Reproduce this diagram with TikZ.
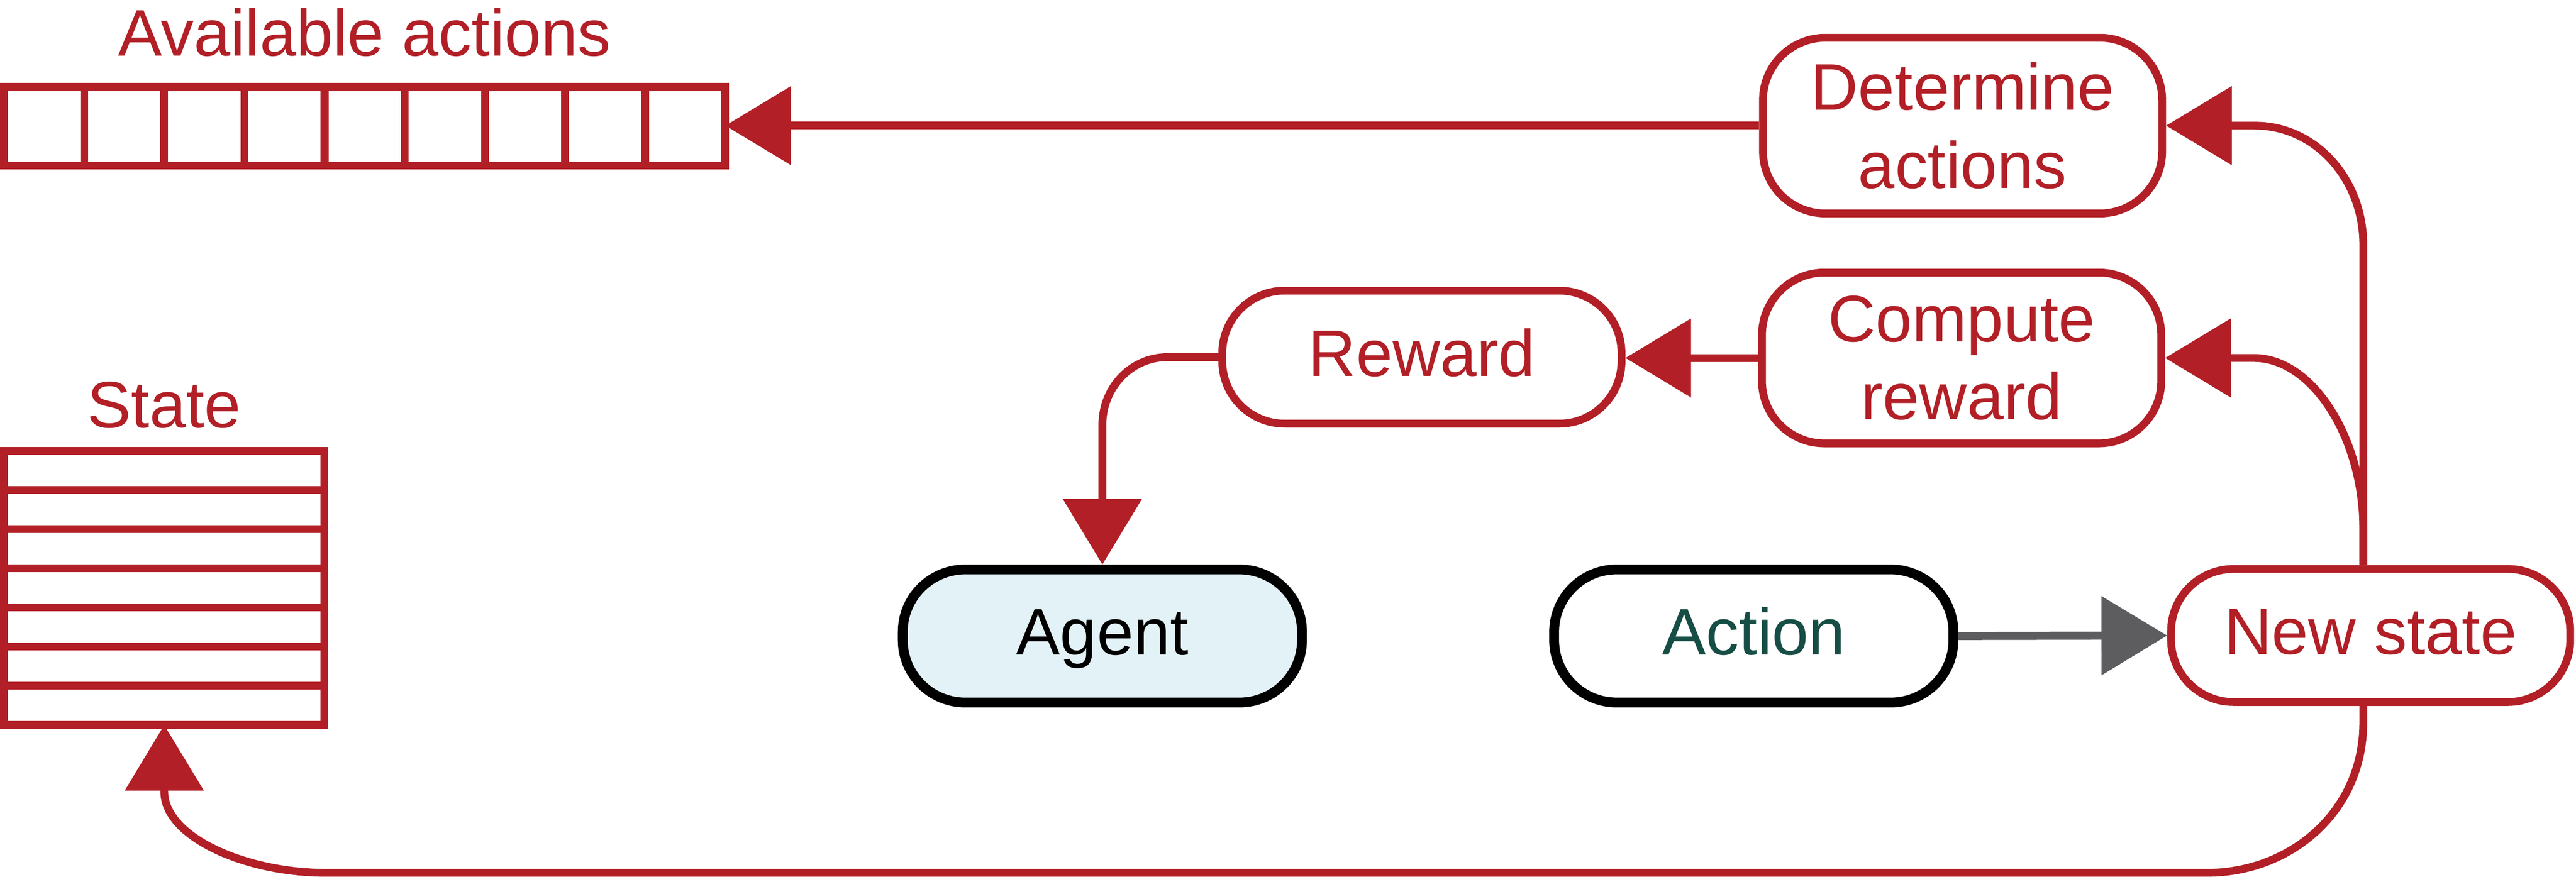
\documentclass[tikz,border=0pt]{standalone}
\usepackage{fontspec}
\setmainfont{Liberation Sans}
\usepackage{xcolor}
\usepackage{tikz}
\usetikzlibrary{arrows.meta,calc}

\definecolor{envred}{RGB}{178,31,38}
\definecolor{agentblue}{RGB}{227,242,247}
\definecolor{actiongreen}{RGB}{22,77,68}
\definecolor{flowgray}{RGB}{93,93,95}

\begin{document}
\begin{tikzpicture}[
	font=\fontsize{11.4}{13.5}\selectfont,
	roundbox/.style={draw,rounded corners=0.38cm,minimum width=2.43cm,minimum height=0.81cm,inner sep=0pt},
	oneline/.style={text height=0.29cm,text depth=0.06cm},
	redbox/.style={roundbox,draw=envred,text=envred,line width=1.35pt},
	blackbox/.style={roundbox,draw=black,line width=1.7pt},
	arraybox/.style={draw=envred,line width=1.35pt,inner sep=0pt,outer sep=0pt},
	redarrow/.style={envred,line width=1.35pt,-{Triangle[length=0.4cm,width=0.47cm]}},
	grayarrow/.style={flowgray,line width=1.4pt,-{Triangle[length=0.4cm,width=0.47cm]}}
	]
	\useasboundingbox (0,0) rectangle (15.68,5.34);
	
	% arrays
	\node[arraybox,minimum width=4.391cm,minimum height=0.478cm] (avail) at (2.2195,4.571) {};
	\foreach \i in {1,...,8}{
		\draw[envred,line width=1.35pt] ($(avail.south west)+(0.4879*\i,0)$) -- ($(avail.north west)+(0.4879*\i,0)$);
	}
	\node[text=envred,anchor=base] (availtext) at ($(avail.north)+(0,0.19)$) {Available actions};
	
	\node[arraybox,minimum width=1.951cm,minimum height=1.669cm] (state) at (0.9995,1.7595) {};
	\foreach \i in {1,...,6}{
		\draw[envred,line width=1.35pt] ($(state.south west)+(0,0.2384*\i)$) -- ($(state.south east)+(0,0.2384*\i)$);
	}
	\node[text=envred,anchor=base] (statetext) at ($(state.north)+(0,0.14)$) {State};
	
	% boxes
	\node[redbox,minimum height=1.07cm,align=center] (det) at (11.946,4.575) {Determine\\actions};
	\node[redbox,minimum height=1.04cm,align=center] (cr) at (11.94,3.16) {Compute\\reward};
	\node[redbox,oneline] (rew) at (8.655,3.165) {Reward};
	\node[blackbox,oneline,fill=agentblue] (agent) at (6.71,1.467) {Agent};
	\node[blackbox,oneline,text=actiongreen] (action) at (10.675,1.467) {Action};
	\node[redbox,oneline] (ns) at (14.43,1.47) {New state};
	
	% connectors
	\draw[redarrow] (det.west) -- (det.west -| avail.east);
	\draw[redarrow] (cr.west) -- (cr.west -| rew.east);
	\draw[redarrow] (rew.west) -- ++(-0.31,0) .. controls +(-0.22,0) and +(0,0.23) .. ($(agent.north)+(0,0.85)$) -- (agent.north);
	\draw[grayarrow] (action.east) -- (ns.west);
	\draw[redarrow] ([xshift=-0.045cm]ns.north) -- ++(0,1.95) .. controls +(0,0.4) and +(0.37,0) .. ([xshift=0.54cm]det.east) -- (det.east);
	\draw[redarrow] ([xshift=-0.045cm]ns.north) -- ++(0,0.22) .. controls +(0,0.55) and +(0.36,0) .. ([xshift=0.54cm]cr.east) -- (cr.east);
	\draw[redarrow] ([xshift=-0.045cm]ns.south) -- ++(0,-0.1) .. controls +(0,-0.55) and +(0.5,0) .. (13.436,0.025) -- (1.98,0.025) .. controls +(-0.48,0) and +(0,-0.28) .. (1.0,0.52) -- (state.south);
	
\end{tikzpicture}
\end{document}
